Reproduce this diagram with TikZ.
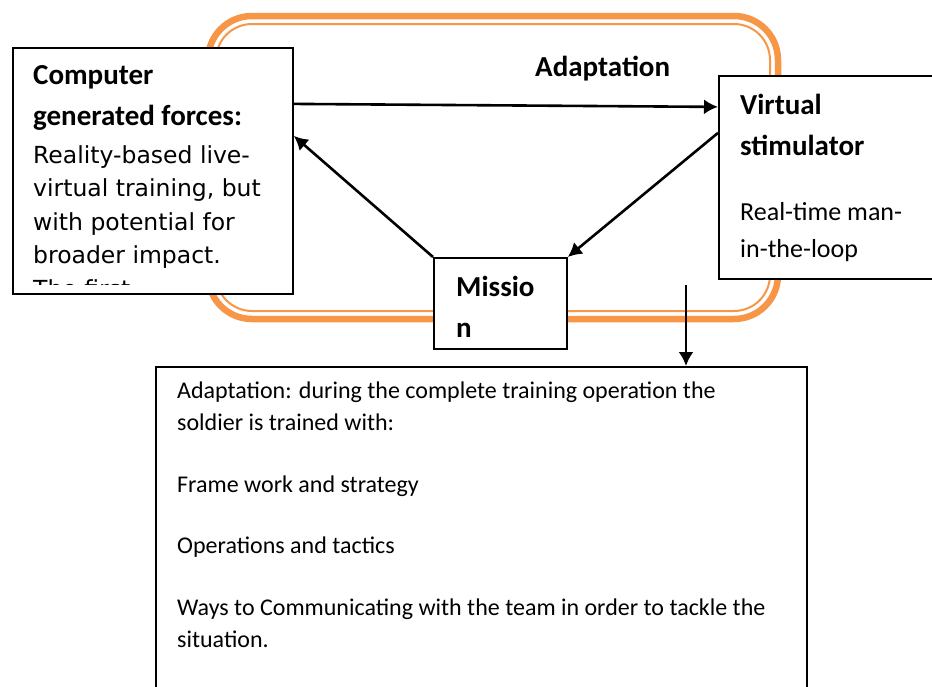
\documentclass[tikz,border=0pt]{standalone}
\usepackage{fontspec}
\setmainfont{Carlito}
\newfontfamily\verdana{DejaVu Sans}
\usetikzlibrary{arrows.meta,positioning}
\definecolor{wordorange}{HTML}{F79646}
\newcommand{\Head}{\fontsize{29}{41}\selectfont\bfseries}
\newcommand{\Body}{\fontsize{23.5}{33.5}\selectfont\verdana}
\newcommand{\Note}{\fontsize{24}{32}\selectfont}

\begin{document}
\begin{tikzpicture}[
                    >={Latex[length=14pt,width=15pt]},
                x=1pt, y=-1pt,
                box/.style={draw, line width=1.8pt, fill=white, inner sep=0pt, anchor=north west},
                txt/.style={anchor=base west, inner sep=0pt, align=left},
                link/.style={->, line width=2.6pt}]

                \clip (0,0) rectangle (932,686);

                % double orange frame: thick outside, thin inside
                \draw[wordorange, line width=6.5pt, rounded corners=44pt] (208,16) rectangle (778,319);
                \draw[wordorange, line width=2pt, rounded corners=36pt] (216,24) rectangle (770,311);

                \draw(12,47) node (cgf) [box, minimum width=280pt, minimum height=246pt] {};
                \draw(718,75) node (vs) [box, minimum width=240pt, minimum height=203pt] {};
                \draw(433,257) node (mission) [box, minimum width=133pt, minimum height=91pt] {};
                \draw(155,366) node (notes) [box, minimum width=651pt, minimum height=340pt] {};

                % text nodes sit on the baseline of their last line
                \draw(33,125) node (cgfhead) [txt, font=\Head] {Computer\\generated forces:};
                \begin{scope}
                    \clip (cgf.north west) rectangle ([yshift=10pt]cgf.south east);
                    \draw(33,297) node (cgfbody) [txt, font=\Body] {Reality-based live-\\virtual training, but\\with potential for\\broader impact.\\The first};
                \end{scope}

                \draw(740,155) node (vshead) [txt, font=\Head] {Virtual\\stimulator};
                \draw(740,257) node (vsbody) [txt, font=\fontsize{26}{37}\selectfont] {Real-time man-\\in-the-loop};

                \draw(456,337) node (missionhead) [txt, font=\Head] {Missio\\n};
                \draw(535,76) node (adapt) [txt, font=\Head] {Adaptation};

                \draw(177,647) node (notesbody) [txt, font=\Note] {Adaptation: during the complete training operation the\\soldier is trained with:\\[29.5pt]Frame work and strategy\\[29.5pt]Operations and tactics\\[29.5pt]Ways to Communicating with the team in order to tackle the\\situation.};

                \draw[link] ([yshift=67pt]cgf.east) -- ([yshift=70.5pt]vs.west);
                \draw[link] (mission.north west) -- ([yshift=35pt]cgf.east);
                \draw[link] ([yshift=44.5pt]vs.west) -- (mission.north east);
                \coordinate (drop) at (686,285);
                \draw[link] (drop) -- (drop |- notes.north);

            \end{tikzpicture}
\end{document}
